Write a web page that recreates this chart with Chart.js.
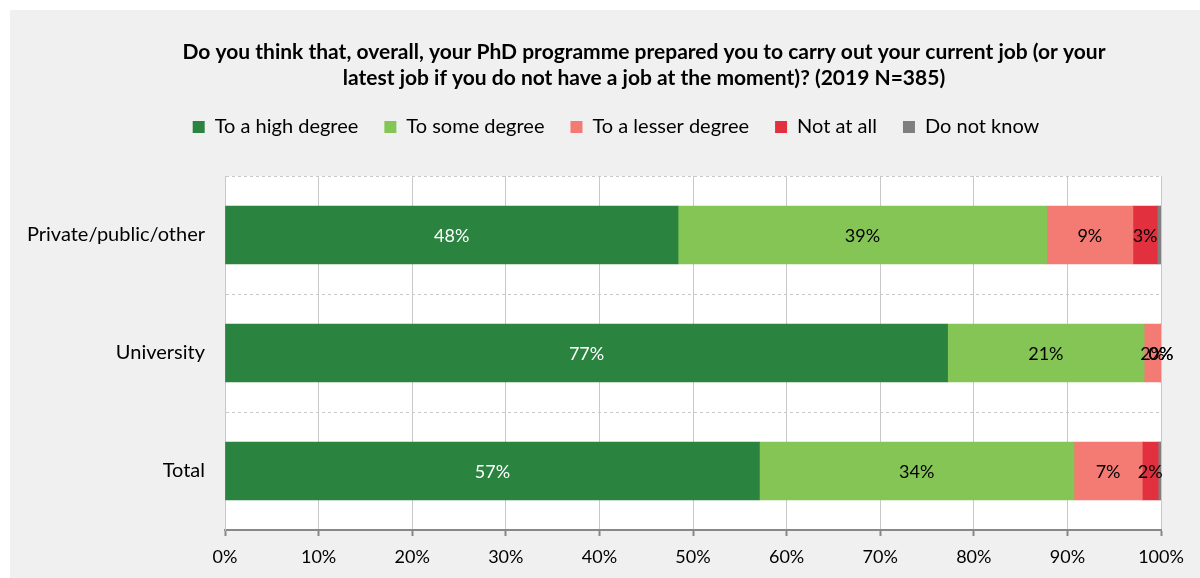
<!DOCTYPE html>
<html>
<head>
<meta charset="utf-8">
<script src="https://cdn.jsdelivr.net/npm/chart.js@4.4.1/dist/chart.umd.min.js"></script>
<style>
  html, body { margin: 0; padding: 0; background: #ffffff; }
  #wrap { position: absolute; left: 10px; top: 10px; width: 1190px; height: 568px; background: #f0f0f0; }
</style>
</head>
<body>
<div id="wrap"><canvas id="chart" width="1190" height="568"></canvas></div>
<script>
// categories and answer shares (%)
const categories = ['Private/public/other', 'University', 'Total'];
const seriesNames = ['To a high degree', 'To some degree', 'To a lesser degree', 'Not at all', 'Do not know'];
const highDegree   = [48.4, 77.2, 57.1];
const someDegree   = [39.4, 21.0, 33.6];
const lesserDegree = [9.2, 1.8, 7.3];
const notAtAll     = [2.6, 0, 1.7];
const doNotKnow    = [0.4, 0, 0.3];
const xTicks = [0, 10, 20, 30, 40, 50, 60, 70, 80, 90, 100];

const colors = ['#2a8440', '#85c556', '#f37b73', '#e3303f', '#7f7f7f'];
const labelColors = ['#ffffff', '#000000', '#000000', '#000000', '#000000'];
const FONT = 'Lato';

const values = [highDegree, someDegree, lesserDegree, notAtAll, doNotKnow];

// white plot background
const plotBg = {
    id: 'plotBg',
    beforeDraw(chart) {
        const a = chart.chartArea;
        const ctx = chart.ctx;
        ctx.save();
        ctx.fillStyle = '#ffffff';
        ctx.fillRect(a.left, a.top, a.right - a.left, a.bottom - a.top);
        ctx.restore();
    }
};

// extra room under the legend, and centre title / legend like the original
const headerLayout = {
    id: 'headerLayout',
    afterInit(chart) {
        const fit = chart.legend.fit;
        chart.legend.fit = function () {
            fit.call(this);
            this.height += 29;
        };
    },
    afterLayout(chart) {
        const t = chart.titleBlock;
        t.left = 634 - 560; t.right = 634 + 560; t.width = 1120;
        const l = chart.legend;
        l.left = 606 - 560; l.right = 606 + 560; l.width = 1120;
    }
};

// percentage labels in the middle of each segment
const segLabels = {
    id: 'segLabels',
    afterDatasetsDraw(chart) {
        const ctx = chart.ctx;
        ctx.save();
        ctx.font = '18px ' + FONT;
        ctx.textAlign = 'center';
        ctx.textBaseline = 'middle';
        chart.data.datasets.forEach((ds, di) => {
            const meta = chart.getDatasetMeta(di);
            meta.data.forEach((bar, i) => {
                const v = ds.data[i];
                const r = Math.round(v);
                if (v !== 0 && r < 1) return;
                ctx.fillStyle = labelColors[di];
                ctx.fillText(r + '%', (bar.x + bar.base) / 2, bar.y + 1);
            });
        });
        ctx.restore();
    }
};

new Chart(document.getElementById('chart'), {
    type: 'bar',
    data: {
        labels: categories,
        datasets: seriesNames.map((name, i) => ({
            label: name,
            data: values[i],
            backgroundColor: colors[i],
            borderWidth: 0,
            barThickness: 58
        }))
    },
    options: {
        indexAxis: 'y',
        responsive: false,
        animation: false,
        layout: { padding: { left: 0, right: 39, top: 0, bottom: 0 } },
        plugins: {
            title: {
                display: true,
                text: ['Do you think that, overall, your PhD programme prepared you to carry out your current job (or your',
                       'latest job if you do not have a job at the moment)? (2019 N=385)'],
                color: '#000000',
                font: { family: FONT, size: 21, weight: 'bold', lineHeight: 26 / 21 },
                padding: { top: 29, bottom: 0 }
            },
            legend: {
                position: 'top',
                labels: {
                    color: '#000000',
                    font: { family: FONT, size: 20 },
                    boxWidth: 12,
                    boxHeight: 12,
                    padding: 26
                }
            },
            tooltip: { enabled: false }
        },
        scales: {
            x: {
                stacked: true,
                min: 0,
                max: 100,
                afterBuildTicks(scale) {
                    scale.ticks = xTicks.map(v => ({ value: v }));
                },
                afterFit(scale) { scale.height = 48; },
                ticks: {
                    color: '#000000',
                    font: { family: FONT, size: 18 },
                    padding: 10,
                    callback: v => v + '%'
                },
                grid: {
                    color: '#c8c8c8',
                    borderDash: [3, 3],
                    tickBorderDash: [],
                    tickColor: '#888888',
                    tickWidth: 2,
                    tickLength: 6
                },
                border: { color: '#888888', width: 2 }
            },
            y: {
                stacked: true,
                afterFit(scale) { scale.width = 215; },
                ticks: {
                    color: '#000000',
                    font: { family: FONT, size: 20 },
                    padding: 20
                },
                grid: {
                    color: '#c8c8c8',
                    borderDash: [3, 3],
                    drawTicks: false,
                    offset: true
                },
                border: { color: '#c8c8c8', dash: [3, 3] }
            }
        }
    },
    plugins: [plotBg, headerLayout, segLabels]
});
</script>
</body>
</html>
